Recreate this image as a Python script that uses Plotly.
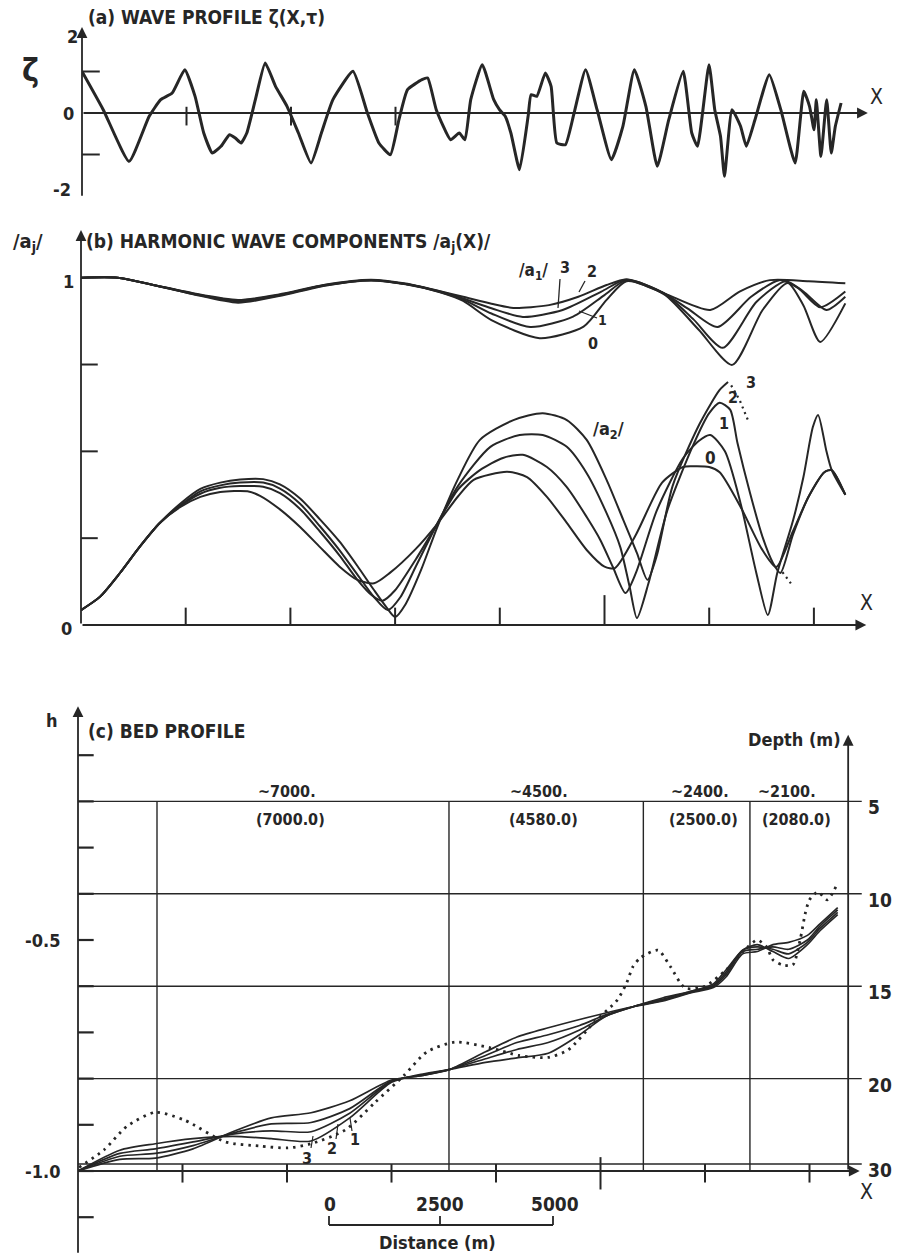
import plotly.graph_objects as go

W, H = 904, 1254
INK = '#262626'
FONT = 'Liberation Sans Narrow, DejaVu Sans Condensed, DejaVu Sans, sans-serif'

# ---------------- (a) wave profile ----------------
wave_x = [0.0, 0.203, 0.451, 0.643, 0.753, 0.863, 0.984, 1.082, 1.165, 1.247, 1.33, 1.412, 1.467, 1.522,
          1.577, 1.659, 1.753, 1.852, 1.962, 2.071, 2.192, 2.291, 2.401, 2.593, 2.731, 2.841, 2.951, 3.033,
          3.115, 3.253, 3.308, 3.39, 3.527, 3.61, 3.665, 3.72, 3.83, 3.94, 3.995, 4.05, 4.104, 4.187, 4.269,
          4.297, 4.352, 4.434, 4.489, 4.544, 4.626, 4.709, 4.819, 4.929, 5.066, 5.176, 5.286, 5.396, 5.505,
          5.615, 5.753, 5.835, 5.89, 6.0, 6.055, 6.11, 6.148, 6.22, 6.302, 6.357, 6.44, 6.577, 6.687, 6.824,
          6.907, 6.962, 7.005, 7.027, 7.071, 7.126, 7.17, 7.209, 7.264]
wave_zeta = [1.0, 0.08, -1.165, -0.08, 0.321, 0.482, 1.044, 0.402, -0.482, -0.964, -0.803, -0.522, -0.602, -0.723,
             -0.482, 0.321, 1.205, 0.643, 0.161, -0.482, -1.205, -0.482, 0.321, 1.004, 0.0, -0.723, -1.004, -0.161,
             0.562, 0.803, 0.843, 0.08, -0.643, -0.482, -0.643, 0.321, 1.165, 0.321, 0.08, -0.08, -0.482, -1.365, -0.08,
             0.442, 0.402, 0.964, 0.643, -0.723, -0.763, 0.0, 1.044, 0.08, -1.124, -0.321, 1.044, 0.161, -1.285,
             -0.161, 1.004, -0.482, -0.803, 1.165, 0.08, -0.562, -1.526, 0.08, -0.321, -0.803, -0.161, 0.924, 0.08, -1.205,
             0.522, 0.161, -0.402, 0.321, -1.044, 0.321, -0.964, -0.321, 0.241]
zeta_tick_labels = ['2', '0', '-2']

# ---------------- (b) harmonic components ----------------
a1_c3_x = [0, 0.35, 0.68, 1.06, 1.5, 1.89, 2.33, 2.77, 3.1, 3.43, 3.65, 3.92, 4.13, 4.47, 4.75, 5.02, 5.21, 5.57, 6.01, 6.29, 6.58, 6.95, 7.3]
a1_c3_y = [1.0, 1.0, 0.98, 0.956, 0.936, 0.952, 0.98, 0.994, 0.983, 0.961, 0.945, 0.925, 0.913, 0.921, 0.945, 0.979, 0.995, 0.955, 0.907, 0.96, 0.993, 0.99, 0.984]
a1_c2_x = [0, 0.35, 0.68, 1.06, 1.5, 1.89, 2.33, 2.77, 3.1, 3.43, 3.65, 3.92, 4.22, 4.6, 4.97, 5.21, 5.57, 5.8, 6.08, 6.4, 6.67, 6.85, 7.06, 7.3]
a1_c2_y = [1.0, 1.0, 0.98, 0.955, 0.934, 0.95, 0.979, 0.993, 0.982, 0.96, 0.94, 0.912, 0.887, 0.907, 0.96, 0.995, 0.955, 0.91, 0.858, 0.945, 0.993, 0.97, 0.915, 0.96]
a1_c1_x = [0, 0.35, 0.68, 1.06, 1.5, 1.89, 2.33, 2.77, 3.1, 3.43, 3.65, 3.92, 4.29, 4.7, 5.0, 5.21, 5.57, 5.85, 6.13, 6.45, 6.73, 6.9, 7.12, 7.3]
a1_c1_y = [1.0, 1.0, 0.98, 0.954, 0.932, 0.949, 0.978, 0.993, 0.982, 0.959, 0.937, 0.897, 0.858, 0.888, 0.95, 0.993, 0.955, 0.88, 0.798, 0.93, 0.99, 0.96, 0.907, 0.945]
a1_c0_x = [0, 0.35, 0.68, 1.06, 1.5, 1.89, 2.33, 2.77, 3.1, 3.43, 3.65, 3.92, 4.38, 4.8, 5.02, 5.21, 5.57, 5.9, 6.22, 6.51, 6.75, 6.9, 7.06, 7.3]
a1_c0_y = [1.0, 1.0, 0.98, 0.953, 0.928, 0.947, 0.977, 0.992, 0.981, 0.958, 0.933, 0.878, 0.826, 0.859, 0.936, 0.99, 0.952, 0.85, 0.749, 0.907, 0.985, 0.92, 0.815, 0.926]

a2_c3_x = [0, 0.18, 0.37, 0.56, 0.75, 0.95, 1.14, 1.33, 1.52, 1.74, 1.9, 2.09, 2.28, 2.47, 2.64, 2.8, 2.92, 3.0, 3.1, 3.25,
           3.4, 3.6, 3.81, 4.13, 4.41, 4.64, 4.83, 5.02, 5.18, 5.31, 5.41, 5.5, 5.65, 5.91, 6.1, 6.18]
a2_c3_y = [0.043, 0.081, 0.149, 0.225, 0.293, 0.35, 0.392, 0.41, 0.419, 0.42, 0.405, 0.365, 0.305, 0.24, 0.17, 0.1, 0.05, 0.023, 0.06, 0.16,
           0.28, 0.42, 0.533, 0.59, 0.61, 0.59, 0.533, 0.418, 0.302, 0.207, 0.13, 0.2, 0.4, 0.58, 0.677, 0.70]
a2_c3_tail_x = [6.21, 6.29, 6.37, None, 6.70, 6.74, 6.78]
a2_c3_tail_y = [0.69, 0.648, 0.59, None, 0.152, 0.136, 0.12]
a2_c2_x = [0, 0.18, 0.37, 0.56, 0.75, 0.95, 1.14, 1.33, 1.52, 1.74, 1.9, 2.09, 2.28, 2.47, 2.64, 2.8, 2.93, 3.05, 3.2, 3.4,
           3.6, 3.91, 4.19, 4.41, 4.64, 4.83, 5.02, 5.15, 5.24, 5.31, 5.42, 5.6, 5.85, 6.0, 6.1, 6.2, 6.27, 6.39, 6.51,
           6.61, 6.68, 6.8, 6.95, 7.1, 7.17, 7.3]
a2_c2_y = [0.043, 0.081, 0.149, 0.225, 0.293, 0.345, 0.385, 0.402, 0.41, 0.41, 0.393, 0.35, 0.285, 0.215, 0.145, 0.08, 0.043, 0.08, 0.17, 0.29,
           0.4, 0.513, 0.547, 0.547, 0.513, 0.437, 0.322, 0.225, 0.11, 0.02, 0.12, 0.33, 0.52, 0.61, 0.64, 0.62, 0.524, 0.38, 0.253,
           0.178, 0.15, 0.26, 0.37, 0.44, 0.446, 0.375]
a2_c1_x = [0, 0.18, 0.37, 0.56, 0.75, 0.95, 1.14, 1.33, 1.52, 1.74, 1.9, 2.09, 2.28, 2.47, 2.64, 2.78, 2.88, 3.0, 3.2, 3.4,
           3.6, 3.81, 4.03, 4.22, 4.45, 4.64, 4.83, 4.96, 5.08, 5.2, 5.3, 5.5, 5.75, 5.9, 6.01, 6.15, 6.3, 6.45, 6.56,
           6.65, 6.8, 6.9, 6.99, 7.04, 7.12, 7.17, 7.3]
a2_c1_y = [0.043, 0.081, 0.149, 0.225, 0.293, 0.343, 0.378, 0.395, 0.40, 0.398, 0.38, 0.335, 0.27, 0.2, 0.13, 0.085, 0.07, 0.1, 0.19, 0.29,
           0.39, 0.446, 0.481, 0.49, 0.455, 0.397, 0.311, 0.245, 0.167, 0.092, 0.15, 0.33, 0.48, 0.53, 0.547, 0.5, 0.35, 0.15, 0.029,
           0.15, 0.3, 0.426, 0.57, 0.605, 0.5, 0.446, 0.375]
a2_c0_x = [0, 0.18, 0.37, 0.56, 0.75, 0.95, 1.14, 1.33, 1.59, 1.71, 1.9, 2.09, 2.28, 2.47, 2.64, 2.8, 2.95, 3.2, 3.4, 3.6,
           3.75, 4.07, 4.26, 4.45, 4.64, 4.83, 5.0, 5.1, 5.3, 5.55, 5.75, 5.85, 6.0, 6.1, 6.3, 6.5, 6.64, 6.8, 6.95,
           7.1, 7.17, 7.3]
a2_c0_y = [0.043, 0.081, 0.149, 0.225, 0.293, 0.34, 0.369, 0.383, 0.385, 0.372, 0.333, 0.283, 0.225, 0.168, 0.13, 0.12, 0.15, 0.22, 0.29, 0.37,
           0.418, 0.441, 0.426, 0.369, 0.294, 0.216, 0.168, 0.164, 0.26, 0.41, 0.455, 0.457, 0.455, 0.44, 0.34, 0.22, 0.167, 0.27, 0.37,
           0.44, 0.446, 0.375]

# ---------------- (c) bed profile ----------------
bed_x = [0, 0.4, 0.74, 1.1, 1.48, 1.85, 2.23, 2.6, 3.0, 3.3, 3.56, 3.9, 4.2, 4.5, 4.8, 5.05, 5.32, 5.6, 5.85, 6.08,
         6.2, 6.36, 6.5, 6.65, 6.8, 6.98, 7.1, 7.27]
bed_c3 = [-1.0, -0.955, -0.941, -0.93, -0.925, -0.93, -0.935, -0.885, -0.808, -0.79, -0.78, -0.765, -0.755, -0.745, -0.705, -0.665,
          -0.644, -0.625, -0.612, -0.595, -0.565, -0.522, -0.51, -0.525, -0.54, -0.51, -0.48, -0.445]
bed_c2 = [-1.0, -0.962, -0.952, -0.937, -0.92, -0.913, -0.915, -0.875, -0.806, -0.792, -0.78, -0.757, -0.737, -0.722, -0.695, -0.665,
          -0.644, -0.628, -0.612, -0.598, -0.57, -0.522, -0.515, -0.52, -0.53, -0.505, -0.475, -0.44]
bed_c1 = [-1.0, -0.968, -0.962, -0.945, -0.918, -0.898, -0.895, -0.865, -0.805, -0.793, -0.78, -0.75, -0.722, -0.705, -0.685, -0.662,
          -0.644, -0.63, -0.614, -0.60, -0.575, -0.525, -0.52, -0.515, -0.52, -0.50, -0.47, -0.435]
bed_c0 = [-1.0, -0.975, -0.972, -0.952, -0.915, -0.885, -0.874, -0.848, -0.803, -0.793, -0.78, -0.742, -0.71, -0.69, -0.672, -0.658,
          -0.644, -0.632, -0.615, -0.603, -0.58, -0.53, -0.525, -0.51, -0.505, -0.49, -0.465, -0.43]
bed_dot_x = [0.01, 0.25, 0.47, 0.74, 1.02, 1.41, 1.74, 2.01, 2.23, 2.56, 2.84, 3.12, 3.34, 3.61, 3.94, 4.22, 4.5, 4.69, 4.94, 5.16,
             5.25, 5.31, 5.38, 5.55, 5.67, 5.81, 6.0, 6.2, 6.4, 6.5, 6.59, 6.65, 6.74, 6.84, 6.91, 6.96, 7.0, 7.08, 7.17, 7.26]
bed_dot_h = [-0.992, -0.954, -0.903, -0.873, -0.89, -0.937, -0.946, -0.95, -0.941, -0.911, -0.852, -0.793, -0.742, -0.721, -0.733, -0.75,
             -0.754, -0.738, -0.678, -0.63, -0.593, -0.558, -0.539, -0.522, -0.558, -0.604, -0.60, -0.565, -0.517, -0.50, -0.515,
             -0.543, -0.554, -0.554, -0.50, -0.442, -0.413, -0.396, -0.413, -0.381]
h_tick_vals = [-0.1, -0.2, -0.3, -0.4, -0.5, -0.6, -0.7, -0.8, -0.9, -1.0, -1.1]
h_tick_labels = {-0.5: '-0.5', -1.0: '-1.0'}
depth_levels = [-0.2, -0.4, -0.6, -0.8, -0.985]
depth_labels = ['5', '10', '15', '20', '30']
section_bounds = [0.756, 3.55, 5.41, 6.43, 7.37]
section_top = ['~7000.', '~4500.', '~2400.', '~2100.']
section_bot = ['(7000.0)', '(4580.0)', '(2500.0)', '(2080.0)']
scale_labels = ['0', '2500', '5000']

fig = go.Figure()


def line(x, y, ax, w=1.7, dash=None, smooth=0.7):
    fig.add_trace(go.Scatter(
        x=x, y=y, xaxis=ax[0], yaxis=ax[1], mode='lines', hoverinfo='skip', showlegend=False,
        line=dict(color=INK, width=w, dash=dash, shape='spline' if smooth else 'linear',
                  smoothing=smooth if smooth else None)))


# (a)
line(wave_x, wave_zeta, ('x', 'y'), w=3.0, smooth=0.45)
# (b)
for xs, ys in [(a1_c3_x, a1_c3_y), (a1_c2_x, a1_c2_y), (a1_c1_x, a1_c1_y), (a1_c0_x, a1_c0_y),
               (a2_c3_x, a2_c3_y), (a2_c2_x, a2_c2_y), (a2_c1_x, a2_c1_y), (a2_c0_x, a2_c0_y)]:
    line(xs, ys, ('x2', 'y2'), w=2.0)
line(a2_c3_tail_x, a2_c3_tail_y, ('x2', 'y2'), w=2.2, dash='2px,4px', smooth=0)
# (c)
for hs in [bed_c3, bed_c2, bed_c1, bed_c0]:
    line(bed_x, hs, ('x3', 'y3'), w=1.7)
line(bed_dot_x, bed_dot_h, ('x3', 'y3'), w=2.8, dash='2.5px,5px', smooth=0.7)

shapes = []
ann = []


def seg(x0, y0, x1, y1, ax, w=1.8):
    shapes.append(dict(type='line', xref=ax[0], yref=ax[1], x0=x0, y0=y0, x1=x1, y1=y1,
                       line=dict(color=INK, width=w)))


def arrow(x0, y0, x1, y1, ax, w=1.8):
    ann.append(dict(x=x1, y=y1, ax=x0, ay=y0, xref=ax[0], yref=ax[1], axref=ax[0], ayref=ax[1],
                    text='', showarrow=True, arrowhead=2, arrowsize=1.2, arrowwidth=w, arrowcolor=INK))


def P(x, y):
    return x / W, 1 - y / H


def text(s, x, y, size=17, xanchor='center', yanchor='middle', weight='bold'):
    px, py = P(x, y)
    ann.append(dict(x=px, y=py, xref='paper', yref='paper', text=s, showarrow=False,
                    xanchor=xanchor, yanchor=yanchor,
                    font=dict(family=FONT, size=size, color=INK, weight=weight)))


def pseg(x0, y0, x1, y1, w=1.4):
    a, b = P(x0, y0)
    c, d = P(x1, y1)
    shapes.append(dict(type='line', xref='paper', yref='paper', x0=a, y0=b, x1=c, y1=d,
                       line=dict(color=INK, width=w)))


# ---- axes (a)
A = ('x', 'y')
arrow(0, -2.03, 0, 2.07, A)
arrow(0, 0, 7.52, 0, A)
for v in (1, -1):
    seg(0, v, 0.17, v, A, 2.0)
for t in (1, 2, 3):
    seg(t, 0.15, t, -0.3, A, 2.0)
text('(a) WAVE PROFILE ζ(Χ,τ)', 86, 17, size=19, xanchor='left')
text('ζ', 30, 70, size=32)
text(zeta_tick_labels[0], 72, 36, size=18)
text(zeta_tick_labels[1], 68, 113, size=18)
text(zeta_tick_labels[2], 62, 190, size=18)
text('X', 876, 97, size=21, weight='normal')

# ---- axes (b)
B = ('x2', 'y2')
arrow(0, 0, 0, 1.137, B)
arrow(0, 0, 7.5, 0, B)
for v in (0.25, 0.5, 0.75):
    seg(0, v, 0.16, v, B, 2.0)
for t in range(1, 8):
    seg(t, 0, t, 0.086 if t == 5 else 0.05, B, 2.0)
text('/a<sub>j</sub>/', 28, 242, size=20)
text('(b) HARMONIC WAVE COMPONENTS /a<sub>j</sub>(Χ)/', 84, 243, size=19, xanchor='left')
text('1', 68, 281, size=18)
text('0', 66, 628, size=18)
text('X', 866, 603, size=21, weight='normal')
text('/a<sub>1</sub>/', 533, 271, size=17)
text('3', 565, 268, size=16)
text('2', 592, 271, size=16)
text('1', 602, 320, size=14)
text('0', 593, 343, size=16)
pseg(560, 279, 558, 308, 1.3)
pseg(585, 281, 579, 292, 1.3)
pseg(597, 318, 579, 311, 1.3)
text('/a<sub>2</sub>/', 608, 430, size=18)
text('3', 751, 382, size=16)
text('2', 733, 398, size=16)
text('1', 724, 423, size=16)
text('0', 710, 458, size=17)

# ---- axes (c)
C = ('x3', 'y3')
arrow(0, -1.18, 0, 0.006, C)
arrow(0, -1.0, 7.48, -1.0, C)
arrow(7.37, -1.0, 7.37, -0.056, C)
for v in h_tick_vals:
    seg(0, v, 0.15, v, C, 2.2)
for lv in depth_levels:
    seg(0, lv, 7.5, lv, C, 1.4)
for xb in section_bounds[:-1]:
    seg(xb, -0.2, xb, -1.0, C, 1.4)
for t in range(1, 8):
    if t == 5:
        seg(t, -0.97, t, -1.04, C, 2.0)
    else:
        seg(t, -0.985, t, -1.025, C, 2.0)
for v, s in h_tick_labels.items():
    yy = 1171 - (v + 1.0) * 462
    text(s, 42, yy, size=18)
for lv, s in zip(depth_levels, depth_labels):
    yy = 1171 - (lv + 1.0) * 462
    text(s, 866, yy + 6, size=19, xanchor='left')
centres_top = [287, 539, 700, 787]
centres_bot = [290, 543, 703, 796]
for s, cx in zip(section_top, centres_top):
    text(s, cx, 791, size=16)
for s, cx in zip(section_bot, centres_bot):
    text(s, cx, 819, size=16)
text('h', 52, 720, size=18)
text('(c) BED PROFILE', 86, 731, size=19, xanchor='left')
text('Depth (m)', 843, 739, size=18, xanchor='right')
text('X', 866, 1192, size=21, weight='normal')
text('3', 307, 1158, size=16)
text('2', 332, 1148, size=16)
text('1', 355, 1139, size=16)
pseg(311, 1148, 313, 1136, 1.2)
pseg(336, 1139, 338, 1124, 1.2)
pseg(352, 1131, 350, 1118, 1.2)
# distance scale bar
for s, cx in zip(scale_labels, [330, 440, 555]):
    text(s, cx, 1204, size=19)
pseg(329, 1225, 553, 1225, 1.8)
for cx in (329, 440, 553):
    pseg(cx, 1225, cx, 1216, 1.8)
text('Distance (m)', 437, 1242, size=18)

ax_common = dict(visible=False, showgrid=False, zeroline=False, fixedrange=True)
fig.update_layout(
    width=W, height=H, autosize=False, margin=dict(l=0, r=0, t=0, b=0),
    paper_bgcolor='white', plot_bgcolor='rgba(0,0,0,0)', showlegend=False,
    xaxis=dict(domain=[82 / W, 882 / W], range=[0, 800 / 104.5], anchor='y', **ax_common),
    yaxis=dict(domain=[1 - 200 / H, 1 - 20 / H], range=[(113 - 200) / 41.5, (113 - 20) / 41.5], anchor='x', **ax_common),
    xaxis2=dict(domain=[81 / W, 881 / W], range=[0, 800 / 104.7], anchor='y2', **ax_common),
    yaxis2=dict(domain=[1 - 640 / H, 1 - 225 / H], range=[(625 - 640) / 347.3, (625 - 225) / 347.3], anchor='x2', **ax_common),
    xaxis3=dict(domain=[78 / W, 878 / W], range=[0, 800 / 104.5], anchor='y3', **ax_common),
    yaxis3=dict(domain=[0, 1 - 700 / H], range=[-1 - (1254 - 1171) / 462, -1 + (1171 - 700) / 462], anchor='x3', **ax_common),
    shapes=shapes, annotations=ann,
)
fig.write_html('out.html')
